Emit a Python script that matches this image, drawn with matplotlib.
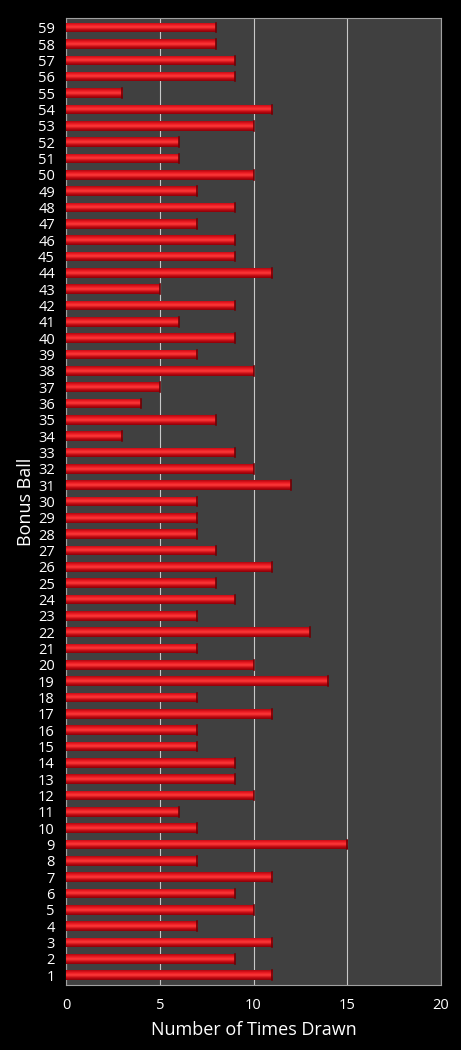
import matplotlib
matplotlib.use("Agg")
import matplotlib.pyplot as plt
import numpy as np
from matplotlib.colors import LinearSegmentedColormap

balls = list(range(1, 60))
counts = [11, 9, 11, 7, 10, 9, 11, 7, 15, 7,
          6, 10, 9, 9, 7, 7, 11, 7, 14, 10,
          7, 13, 7, 9, 8, 11, 8, 7, 7, 7,
          12, 10, 9, 3, 8, 4, 5, 10, 7, 9,
          6, 9, 5, 11, 9, 9, 7, 9, 7, 10,
          6, 6, 10, 11, 3, 9, 9, 8, 8]
xticks = [0, 5, 10, 15, 20]

plt.rcParams['font.family'] = ['Open Sans', 'DejaVu Sans']

fig = plt.figure(figsize=(4.61, 10.5), dpi=100, facecolor='black')
ax = fig.add_axes([0.1432, 0.0619, 0.8134, 0.921])
ax.set_facecolor('#404040')

bars = ax.barh(balls, counts, height=0.58, color='#d0101a', zorder=3)

cmap = LinearSegmentedColormap.from_list('bar', ['#8a0008', '#c40c14', '#ff3a3a', '#e81820', '#b00810'])
grad = np.linspace(0, 1, 64).reshape(-1, 1)
for b in bars:
    x0, y0 = b.get_x(), b.get_y()
    w, h = b.get_width(), b.get_height()
    im = ax.imshow(grad, extent=[x0, x0 + w, y0, y0 + h], origin='lower',
                   cmap=cmap, aspect='auto', zorder=4)
    im.set_clip_path(b)
    ax.plot([x0 + w, x0 + w], [y0, y0 + h], color='#700005', lw=1.2, zorder=5)

ax.set_xlim(0, 20)
ax.set_ylim(0.4, 59.6)
ax.set_xticks(xticks)
ax.set_yticks(balls)
ax.set_yticklabels([str(b) for b in balls])
ax.xaxis.grid(True, color='#c8c8c8', lw=0.8, zorder=1)
ax.set_axisbelow(True)
ax.tick_params(axis='both', colors='white', length=0, labelsize=10.5)
ax.tick_params(axis='x', pad=9)
ax.tick_params(axis='y', pad=8)
for s in ax.spines.values():
    s.set_color('#a0a0a0')
    s.set_linewidth(0.8)
ax.set_xlabel('Number of Times Drawn', color='white', fontsize=13, labelpad=6)
ax.set_ylabel('Bonus Ball', color='white', fontsize=13, labelpad=2)

fig.savefig('out.png', dpi=100, facecolor='black')
